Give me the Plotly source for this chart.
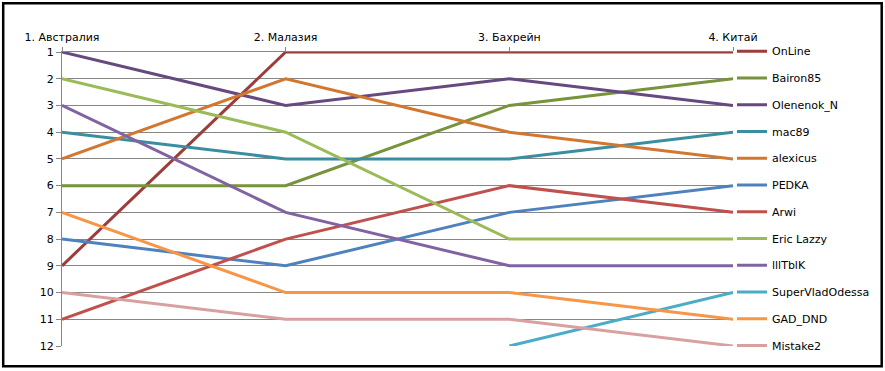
import plotly.graph_objects as go

categories = ["1. Австралия", "2. Малазия", "3. Бахрейн", "4. Китай"]
names = ["OnLine", "Bairon85", "Olenenok_N", "mac89", "alexicus", "PEDKA",
         "Arwi", "Eric Lazzy", "lllTblK", "SuperVladOdessa", "GAD_DND", "Mistake2"]
online = [9, 1, 1, 1]
bairon85 = [6, 6, 3, 2]
olenenok_n = [1, 3, 2, 3]
mac89 = [4, 5, 5, 4]
alexicus = [5, 2, 4, 5]
pedka = [8, 9, 7, 6]
arwi = [11, 8, 6, 7]
eric_lazzy = [2, 4, 8, 8]
llltblk = [3, 7, 9, 9]
supervladodessa = [None, None, 12, 10]
gad_dnd = [7, 10, 10, 11]
mistake2 = [10, 11, 11, 12]
ranks = list(range(1, 13))

series = [online, bairon85, olenenok_n, mac89, alexicus, pedka,
          arwi, eric_lazzy, llltblk, supervladodessa, gad_dnd, mistake2]
colors = ["#9B3D3A", "#77933C", "#65497F", "#3A8EA0", "#D27730", "#4F81BD",
          "#C0504D", "#9BBB59", "#8064A2", "#4BACC6", "#F79646", "#D9A0A0"]

W, H = 885, 371
L, R, T, B = 62, 152, 52, 25
pw, ph = W - L - R, H - T - B

def px2x(px):
    return (px - L) / pw

def py2y(py):
    return (H - B - py) / ph

xs = list(range(len(categories)))

fig = go.Figure()
for name, vals, col in zip(names, series, colors):
    fig.add_trace(go.Scatter(
        x=xs, y=vals, name=name, mode="lines",
        line=dict(color=col, width=3),
        legendgroup=name, connectgaps=False,
    ))

font = dict(family="DejaVu Sans, Verdana, sans-serif", size=11, color="#000000")

fig.update_layout(
    width=W, height=H,
    margin=dict(l=L, r=R, t=T, b=B, pad=0, autoexpand=False),
    paper_bgcolor="white", plot_bgcolor="white",
    font=font,
    showlegend=True,
    legend=dict(
        x=px2x(732), xanchor="left",
        y=py2y(36.7), yanchor="top",
        font=font, tracegroupgap=7.75,
        bgcolor="rgba(0,0,0,0)", borderwidth=0,
        itemwidth=30, maxheight=400,
    ),
    xaxis=dict(
        range=[0, 3], side="top",
        tickvals=xs, ticktext=categories,
        showgrid=False, zeroline=False,
        showline=True, linecolor="#868686", linewidth=1,
        ticks="outside", ticklen=4, tickcolor="#868686",
        ticklabelstandoff=2,
        tickfont=font, fixedrange=True,
    ),
    yaxis=dict(
        range=[12, 1],
        tickvals=ranks, ticktext=[str(r) for r in ranks],
        showgrid=True, gridcolor="#868686", gridwidth=1,
        zeroline=False,
        showline=True, linecolor="#868686", linewidth=1,
        ticks="outside", ticklen=5, tickcolor="#868686",
        tickfont=font, fixedrange=True,
    ),
    shapes=[dict(
        type="rect", xref="paper", yref="paper",
        x0=px2x(3.2), x1=px2x(881.7), y0=py2y(366.3), y1=py2y(3.2),
        line=dict(color="#000000", width=2.5), fillcolor="rgba(0,0,0,0)",
        layer="above",
    )],
)

fig.write_html("out.html", config={"displayModeBar": False},
               post_script="document.body.style.margin='0';")
